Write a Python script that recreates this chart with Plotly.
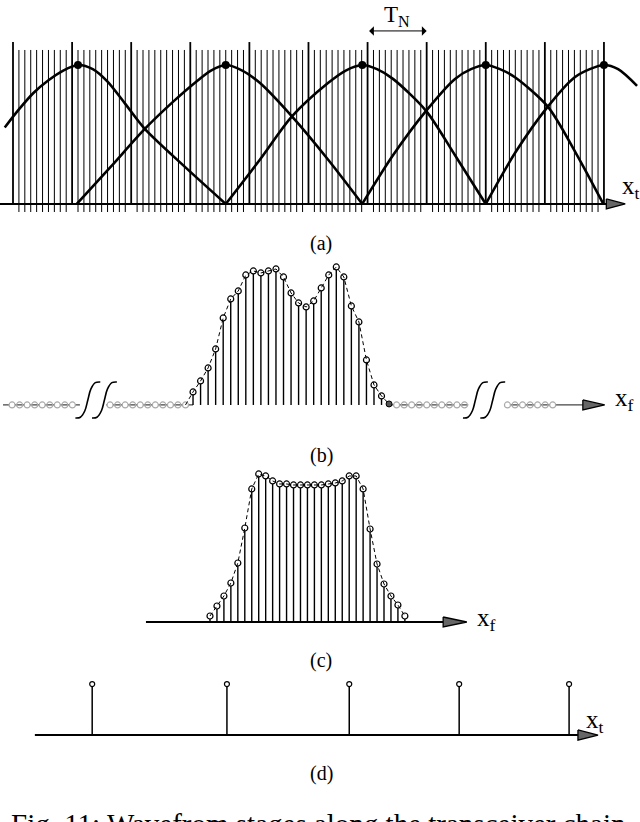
import plotly.graph_objects as go

FONT = "Liberation Serif"
INK = "black"

# ---- (a) windowed time samples ----
grid_major = [0, 10, 20, 30, 40, 50, 60, 70, 80, 90, 100]
grid_minor = [k for k in range(1, 100) if k % 10 != 0]
win_x = [
    [-1.4, 1.0, 3.5, 6.0, 8.5, 11.0, 13.5, 16.0, 19.0, 22.3, 29.0, 36.0],
    [10.8, 16.6, 22.3, 27.2, 31.0, 33.5, 36.0, 38.8, 41.8, 47.2, 53.3, 59.1],
    [36.0, 41.8, 47.2, 53.3, 56.3, 59.1, 61.6, 64.3, 69.9, 74.8, 80.0],
    [59.1, 64.3, 69.9, 74.8, 77.5, 80.0, 82.4, 85.0, 90.5, 95.2, 99.9],
    [80.0, 85.0, 90.5, 95.0, 97.6, 100.0, 102.4, 105.6],
]
win_y = [
    [0.55, 0.68, 0.80, 0.89, 0.96, 1.0, 0.97, 0.88, 0.72, 0.54, 0.27, 0.0],
    [0.0, 0.27, 0.54, 0.74, 0.88, 0.96, 1.0, 0.96, 0.87, 0.63, 0.32, 0.0],
    [0.0, 0.32, 0.63, 0.87, 0.96, 1.0, 0.97, 0.90, 0.67, 0.35, 0.0],
    [0.0, 0.35, 0.67, 0.90, 0.97, 1.0, 0.97, 0.91, 0.70, 0.37, 0.0],
    [0.0, 0.37, 0.70, 0.91, 0.97, 1.0, 0.97, 0.85],
]
peak_t = [11.0, 36.0, 59.1, 80.0, 100.0]
peak_v = [1, 1, 1, 1, 1]

# ---- (b) spectrum of the burst ----
b_bin = list(range(27))
b_amp = [13, 24, 37, 56, 87, 106, 114, 130, 134, 132, 134, 136, 128, 112,
         102, 98, 104, 117, 130, 138, 128, 99, 83, 45, 20, 9, 1]
b_floor_1 = [-24, -23, -22, -21, -20, -19, -18, -17, -16]
b_floor_2 = [-11, -10, -9, -8, -7, -6, -5, -4, -3, -2, -1]
b_floor_3 = [27, 28, 29, 30, 31, 32, 33, 34, 35, 36]
b_floor_4 = [41.7, 42.7, 43.7, 44.7, 45.7, 46.7, 47.7]

# ---- (c) filtered spectrum ----
c_bin = list(range(29))
c_amp = [6, 16, 26, 39, 59, 94, 133, 148, 146, 141, 138, 138, 137, 137, 137,
         137, 137, 138, 139, 141, 146, 146, 133, 93, 58, 38, 26, 17, 6]

# ---- (d) decimated time samples ----
d_t = [13.4, 36.2, 56.9, 75.5, 94.1]
d_amp = [1, 1, 1, 1, 1]

# integral-sign shaped axis break
BREAK_FX = [0, 0.2, 0.38, 0.5, 0.62, 0.8, 1.0]
BREAK_FY = [0, 0.02, 0.2, 0.5, 0.8, 0.98, 1.0]


def vlines(xs, y0, y1):
    x, y = [], []
    for i, xv in enumerate(xs):
        top = y1[i] if isinstance(y1, list) else y1
        x += [xv, xv, None]
        y += [y0, top, None]
    return x, y


def add(fig, ax, **kw):
    kw.setdefault("showlegend", False)
    kw.setdefault("hoverinfo", "skip")
    kw.setdefault("cliponaxis", False)
    fig.add_trace(go.Scatter(xaxis="x" + ax, yaxis="y" + ax, **kw))


def arrow_head(fig, ax, base, tip, half):
    add(fig, ax, x=[base, tip, base, base], y=[half, 0, -half, half],
        mode="lines", fill="toself", fillcolor="#666",
        line=dict(color=INK, width=1.3))


def axis_break(fig, ax, x0, width, y0, y1):
    add(fig, ax, x=[x0 + f * width for f in BREAK_FX],
        y=[y0 + f * (y1 - y0) for f in BREAK_FY],
        mode="lines", line=dict(color=INK, width=1.6, shape="spline"))


def floor(fig, ax, xs, x0, x1):
    add(fig, ax, x=[x0, x1], y=[0, 0], mode="lines",
        line=dict(color="#444", width=1.2))
    add(fig, ax, x=xs[::2], y=[0] * len(xs[::2]), mode="markers",
        marker=dict(symbol="circle", size=6, color="white",
                    line=dict(color="#aaa", width=1.2)))
    add(fig, ax, x=xs[1::2], y=[0] * len(xs[1::2]), mode="markers",
        marker=dict(symbol="circle-open", size=6, color="#aaa",
                    line=dict(width=1.2)))


fig = go.Figure()

# (a)
gx, gy = vlines(grid_minor, -0.058, 1.108)
add(fig, "", x=gx, y=gy, mode="lines", line=dict(color=INK, width=1))
gx, gy = vlines(grid_major, 0, 1.165)
add(fig, "", x=gx, y=gy, mode="lines", line=dict(color=INK, width=1.8))
add(fig, "", x=[-2.2, 100.4], y=[0, 0], mode="lines",
    line=dict(color=INK, width=2))
for xs, ys in zip(win_x, win_y):
    add(fig, "", x=xs, y=ys, mode="lines",
        line=dict(color=INK, width=2.6, shape="spline", smoothing=0.8))
add(fig, "", x=peak_t, y=peak_v, mode="markers",
    marker=dict(color=INK, size=8))
arrow_head(fig, "", 100.4, 103.6, 0.036)

# (b)
floor(fig, "2", b_floor_1, -25.2, -15.0)
floor(fig, "2", b_floor_2, -11.5, 0)
floor(fig, "2", b_floor_3, 26, 36.5)
floor(fig, "2", b_floor_4, 41.4, 51.7)
for x0 in [-15.6, -13.4, 35.8, 38.1]:
    axis_break(fig, "2", x0, 3.3, -13, 23)
sx, sy = vlines(b_bin, 0, [a - 3 for a in b_amp])
add(fig, "2", x=sx, y=sy, mode="lines", line=dict(color=INK, width=1.4))
add(fig, "2", x=[-1] + b_bin, y=[0] + b_amp, mode="lines",
    line=dict(color=INK, width=1, dash="4px,3px"))
add(fig, "2", x=b_bin[:-1], y=b_amp[:-1], mode="markers",
    marker=dict(symbol="circle-open", size=6, color=INK,
                line=dict(width=1.2)))
add(fig, "2", x=b_bin[-1:], y=b_amp[-1:], mode="markers",
    marker=dict(symbol="circle", size=6, color="#555",
                line=dict(color=INK, width=1)))
arrow_head(fig, "2", 51.7, 54.6, 5)

# (c)
add(fig, "3", x=[-9.2, 33.5], y=[0, 0], mode="lines",
    line=dict(color=INK, width=2.2))
sx, sy = vlines(c_bin, 0, [a - 3 for a in c_amp])
add(fig, "3", x=sx, y=sy, mode="lines", line=dict(color=INK, width=1.4))
add(fig, "3", x=c_bin, y=c_amp, mode="lines",
    line=dict(color=INK, width=1, dash="4px,3px"))
add(fig, "3", x=c_bin, y=c_amp, mode="markers",
    marker=dict(symbol="circle-open", size=6, color=INK,
                line=dict(width=1.2)))
arrow_head(fig, "3", 33.5, 36.9, 5)

# (d)
add(fig, "4", x=[3.7, 95.6], y=[0, 0], mode="lines",
    line=dict(color=INK, width=2))
sx, sy = vlines(d_t, 0, [a - 0.05 for a in d_amp])
add(fig, "4", x=sx, y=sy, mode="lines", line=dict(color=INK, width=1.5))
add(fig, "4", x=d_t, y=d_amp, mode="markers",
    marker=dict(symbol="circle-open", size=5, color=INK,
                line=dict(width=1.2)))
arrow_head(fig, "4", 95.6, 99.0, 0.1)

notes = []


def label(text, px, py, size, xanchor="center", yanchor="middle"):
    notes.append(dict(text=text, x=px / 640, y=1 - py / 822, xref="paper",
                      yref="paper", showarrow=False, xanchor=xanchor,
                      yanchor=yanchor, font=dict(family=FONT, size=size,
                                                 color=INK)))


label("x<sub>t</sub>", 620, 188, 25, xanchor="left")
label("x<sub>f</sub>", 613, 399, 25, xanchor="left")
label("x<sub>f</sub>", 475, 619, 25, xanchor="left")
label("x<sub>t</sub>", 584, 721, 25, xanchor="left")
label("T<sub>N</sub>", 397, 0, 23, yanchor="top")
label("(a)", 321, 243, 20)
label("(b)", 321, 455, 20)
label("(c)", 321, 660, 20)
label("(d)", 321, 773, 20)
label("Fig. 11: Wavefrom stages along the transceiver chain.", 322, 806, 29,
      yanchor="top")
notes.append(dict(x=70, y=1.245, ax=60, ay=1.245, xref="x", yref="y",
                  axref="x", ayref="y", text="", showarrow=True,
                  arrowside="end+start", arrowhead=1, startarrowhead=1,
                  arrowsize=1.6, startarrowsize=1.6, arrowwidth=1,
                  standoff=0, startstandoff=0, arrowcolor=INK))

hidden = dict(visible=False, fixedrange=True)
fig.update_layout(
    width=640, height=822, autosize=False,
    margin=dict(l=0, r=0, t=0, b=0),
    paper_bgcolor="white", plot_bgcolor="white",
    annotations=notes,
    xaxis=dict(domain=[0, 1], range=[-2.2, 106.1], anchor="y", **hidden),
    yaxis=dict(domain=[0.730, 1.0], range=[-0.1295, 1.4676], anchor="x",
               **hidden),
    xaxis2=dict(domain=[0, 1], range=[-25.6, 59.28], anchor="y2", **hidden),
    yaxis2=dict(domain=[0.4745, 0.6959], range=[-27, 155], anchor="x2",
                **hidden),
    xaxis3=dict(domain=[0, 1], range=[-30.17, 61.78], anchor="y3", **hidden),
    yaxis3=dict(domain=[0.2214, 0.4380], range=[-18, 160], anchor="x3",
                **hidden),
    xaxis4=dict(domain=[0, 1], range=[-2.2, 106.1], anchor="y4", **hidden),
    yaxis4=dict(domain=[0.0754, 0.1849], range=[-0.49, 1.275], anchor="x4",
                **hidden),
)

fig.write_html("out.html", config={"displayModeBar": False},
               post_script="document.body.style.margin='0px';")
